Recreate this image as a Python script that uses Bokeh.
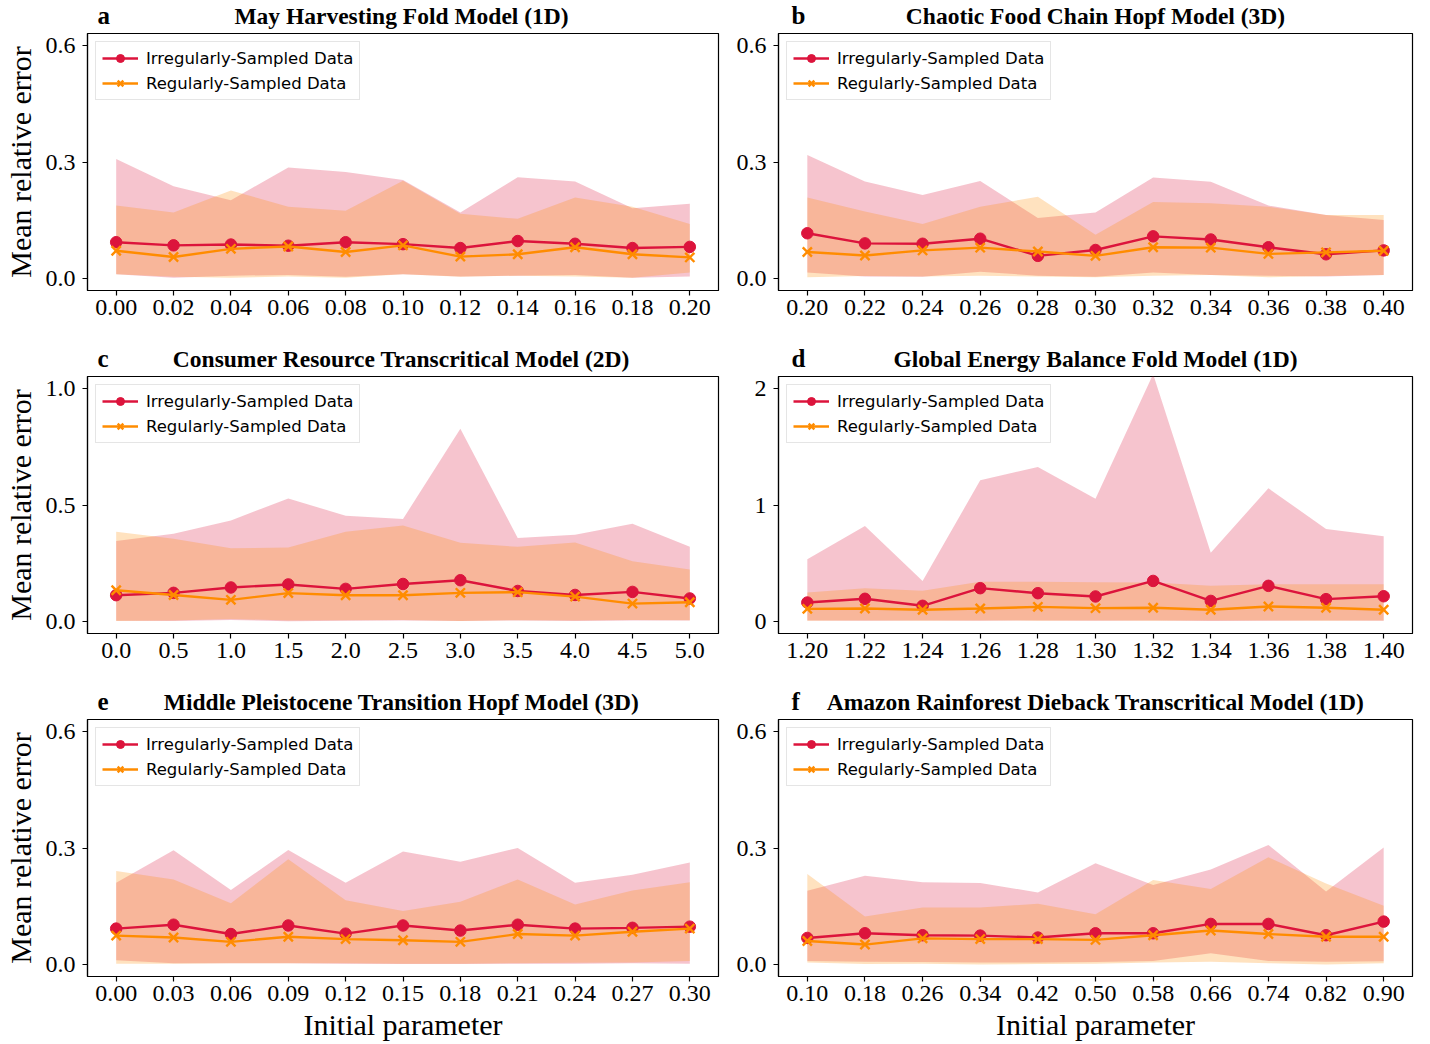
from bokeh.plotting import figure
from bokeh.models import Range1d, FixedTicker, Legend, LegendItem
from bokeh.core.properties import value
from bokeh.layouts import column, row
from bokeh.embed import file_html
from bokeh.resources import INLINE

# ---------------- data ----------------
xa = [0.00, 0.02, 0.04, 0.06, 0.08, 0.10, 0.12, 0.14, 0.16, 0.18, 0.20]
xa_labels = ["0.00", "0.02", "0.04", "0.06", "0.08", "0.10", "0.12", "0.14", "0.16", "0.18", "0.20"]
a_irr = [0.094, 0.086, 0.088, 0.085, 0.094, 0.089, 0.079, 0.097, 0.090, 0.079, 0.082]
a_irr_lo = [0.012, 0.003, 0.008, 0.010, 0.005, 0.012, 0.006, 0.008, 0.010, 0.003, 0.006]
a_irr_hi = [0.308, 0.238, 0.202, 0.286, 0.274, 0.254, 0.170, 0.261, 0.250, 0.181, 0.193]
a_reg = [0.072, 0.056, 0.077, 0.083, 0.069, 0.086, 0.057, 0.063, 0.081, 0.063, 0.055]
a_reg_lo = [0.012, 0.005, 0.003, 0.006, 0.003, 0.012, 0.005, 0.008, 0.006, 0.003, 0.016]
a_reg_hi = [0.188, 0.170, 0.227, 0.185, 0.175, 0.252, 0.167, 0.154, 0.209, 0.185, 0.141]

xb = [0.20, 0.22, 0.24, 0.26, 0.28, 0.30, 0.32, 0.34, 0.36, 0.38, 0.40]
xb_labels = ["0.20", "0.22", "0.24", "0.26", "0.28", "0.30", "0.32", "0.34", "0.36", "0.38", "0.40"]
b_irr = [0.117, 0.091, 0.090, 0.103, 0.059, 0.074, 0.109, 0.101, 0.081, 0.063, 0.073]
b_irr_lo = [0.016, 0.006, 0.005, 0.018, 0.008, 0.005, 0.016, 0.010, 0.008, 0.006, 0.010]
b_irr_hi = [0.318, 0.250, 0.215, 0.251, 0.156, 0.170, 0.260, 0.249, 0.188, 0.164, 0.151]
b_reg = [0.069, 0.060, 0.073, 0.080, 0.070, 0.059, 0.081, 0.080, 0.064, 0.068, 0.072]
b_reg_lo = [0.004, 0.007, 0.006, 0.008, 0.006, 0.004, 0.008, 0.010, 0.004, 0.007, 0.010]
b_reg_hi = [0.209, 0.173, 0.141, 0.185, 0.211, 0.113, 0.197, 0.194, 0.185, 0.164, 0.164]

xc = [0.0, 0.5, 1.0, 1.5, 2.0, 2.5, 3.0, 3.5, 4.0, 4.5, 5.0]
xc_labels = ["0.0", "0.5", "1.0", "1.5", "2.0", "2.5", "3.0", "3.5", "4.0", "4.5", "5.0"]
c_irr = [0.114, 0.124, 0.147, 0.160, 0.141, 0.162, 0.178, 0.132, 0.115, 0.128, 0.100]
c_irr_lo = [0.005, 0.004, 0.008, 0.002, 0.005, 0.006, 0.004, 0.006, 0.003, 0.006, 0.006]
c_irr_hi = [0.346, 0.377, 0.434, 0.528, 0.454, 0.440, 0.826, 0.359, 0.373, 0.420, 0.321]
c_reg = [0.135, 0.115, 0.094, 0.123, 0.114, 0.114, 0.124, 0.127, 0.108, 0.078, 0.084]
c_reg_lo = [0.004, 0.006, 0.012, 0.006, 0.007, 0.008, 0.003, 0.007, 0.006, 0.008, 0.007]
c_reg_hi = [0.385, 0.356, 0.315, 0.318, 0.385, 0.412, 0.338, 0.321, 0.339, 0.259, 0.224]

xd = [1.20, 1.22, 1.24, 1.26, 1.28, 1.30, 1.32, 1.34, 1.36, 1.38, 1.40]
xd_labels = ["1.20", "1.22", "1.24", "1.26", "1.28", "1.30", "1.32", "1.34", "1.36", "1.38", "1.40"]
d_irr = [0.165, 0.197, 0.137, 0.288, 0.245, 0.217, 0.350, 0.179, 0.308, 0.194, 0.219]
d_irr_lo = [0.012, 0.010, 0.012, 0.010, 0.011, 0.010, 0.012, 0.008, 0.010, 0.011, 0.010]
d_irr_hi = [0.536, 0.821, 0.350, 1.211, 1.325, 1.054, 2.120, 0.592, 1.143, 0.795, 0.732]
d_reg = [0.111, 0.114, 0.103, 0.114, 0.128, 0.117, 0.120, 0.103, 0.131, 0.120, 0.103]
d_reg_lo = [0.010, 0.012, 0.010, 0.011, 0.010, 0.012, 0.010, 0.011, 0.012, 0.010, 0.011]
d_reg_hi = [0.251, 0.288, 0.265, 0.342, 0.342, 0.339, 0.336, 0.308, 0.322, 0.322, 0.322]

xe = [0.00, 0.03, 0.06, 0.09, 0.12, 0.15, 0.18, 0.21, 0.24, 0.27, 0.30]
xe_labels = ["0.00", "0.03", "0.06", "0.09", "0.12", "0.15", "0.18", "0.21", "0.24", "0.27", "0.30"]
e_irr = [0.093, 0.103, 0.079, 0.101, 0.080, 0.101, 0.088, 0.103, 0.093, 0.095, 0.098]
e_irr_lo = [0.012, 0.004, 0.004, 0.004, 0.003, 0.002, 0.002, 0.003, 0.003, 0.004, 0.003]
e_irr_hi = [0.211, 0.294, 0.192, 0.295, 0.211, 0.291, 0.265, 0.300, 0.211, 0.231, 0.263]
e_reg = [0.075, 0.070, 0.059, 0.072, 0.066, 0.063, 0.059, 0.079, 0.075, 0.085, 0.093]
e_reg_lo = [0.003, 0.003, 0.004, 0.004, 0.004, 0.003, 0.003, 0.004, 0.005, 0.006, 0.010]
e_reg_hi = [0.241, 0.219, 0.158, 0.271, 0.166, 0.138, 0.162, 0.219, 0.155, 0.191, 0.212]

xf = [0.10, 0.18, 0.26, 0.34, 0.42, 0.50, 0.58, 0.66, 0.74, 0.82, 0.90]
xf_labels = ["0.10", "0.18", "0.26", "0.34", "0.42", "0.50", "0.58", "0.66", "0.74", "0.82", "0.90"]
f_irr = [0.069, 0.081, 0.076, 0.075, 0.070, 0.081, 0.081, 0.105, 0.105, 0.076, 0.111]
f_irr_lo = [0.010, 0.008, 0.007, 0.006, 0.006, 0.007, 0.010, 0.030, 0.010, 0.008, 0.009]
f_irr_hi = [0.190, 0.229, 0.212, 0.210, 0.186, 0.261, 0.205, 0.245, 0.308, 0.188, 0.301]
f_reg = [0.061, 0.052, 0.068, 0.066, 0.066, 0.064, 0.076, 0.088, 0.079, 0.072, 0.072]
f_reg_lo = [0.006, 0.002, 0.003, 0.001, 0.002, 0.003, 0.006, 0.008, 0.004, 0.001, 0.004]
f_reg_hi = [0.233, 0.124, 0.147, 0.147, 0.157, 0.130, 0.218, 0.195, 0.276, 0.209, 0.152]

yt_small = [0.0, 0.3, 0.6]
yt_small_labels = ["0.0", "0.3", "0.6"]
yt_c = [0.0, 0.5, 1.0]
yt_c_labels = ["0.0", "0.5", "1.0"]
yt_d = [0, 1, 2]
yt_d_labels = ["0", "1", "2"]

letters = ["a", "b", "c", "d", "e", "f"]
titles = ["May Harvesting Fold Model (1D)",
          "Chaotic Food Chain Hopf Model (3D)",
          "Consumer Resource Transcritical Model (2D)",
          "Global Energy Balance Fold Model (1D)",
          "Middle Pleistocene Transition Hopf Model (3D)",
          "Amazon Rainforest Dieback Transcritical Model (1D)"]
series_names = ["Irregularly-Sampled Data", "Regularly-Sampled Data"]
y_label = "Mean relative error"
x_label = "Initial parameter"

# ---------------- style / layout ----------------
SERIF = "Liberation Serif"
SANS = "DejaVu Sans"
RED = "#DC143C"
ORANGE = "#FF8C00"
FW, FH = 634, 257
STRIP_H = 33
BORDERS = {0: (84, 12), 1: (48, 18)}


def title_strip(letter, title, col):
    mbl, mbr = BORDERS[col]
    w = FW + mbl + mbr
    s = figure(width=w, height=STRIP_H, x_range=Range1d(0, w), y_range=Range1d(0, STRIP_H),
               output_backend="svg", toolbar_location=None,
               min_border_left=0, min_border_right=0, min_border_top=0, min_border_bottom=0,
               x_axis_type=None, y_axis_type=None)
    s.outline_line_color = None
    s.xgrid.visible = False
    s.ygrid.visible = False
    s.text(x=[mbl + FW / 2], y=[18], text=[title], text_font=value(SERIF),
           text_font_style="bold", text_font_size="23.5px", text_align="center",
           text_baseline="middle", text_color="black")
    s.text(x=[mbl + 13], y=[18], text=[letter], text_font=value(SERIF),
           text_font_style="bold", text_font_size="25px", text_align="left",
           text_baseline="middle", text_color="black")
    return s


def panel(xs, xlabels, irr, irr_lo, irr_hi, reg, reg_lo, reg_hi,
          yticks, ylabels, ytop, col, rowpos):
    span = xs[-1] - xs[0]
    xr = Range1d(xs[0] - 0.05 * span, xs[-1] + 0.05 * span)
    yr = Range1d(-0.05 * ytop, 1.05 * ytop)
    mbl, mbr = BORDERS[col]
    mbb = 68 if rowpos == 2 else 53
    p = figure(width=FW + mbl + mbr, height=FH + mbb, x_range=xr, y_range=yr,
               output_backend="svg", toolbar_location=None,
               min_border_left=mbl, min_border_right=mbr,
               min_border_top=0, min_border_bottom=mbb)
    p.xgrid.visible = False
    p.ygrid.visible = False
    p.outline_line_color = "black"
    p.outline_line_width = 1.2
    p.outline_line_alpha = 1.0

    p.xaxis.ticker = FixedTicker(ticks=xs)
    p.xaxis.major_label_overrides = {x: l for x, l in zip(xs, xlabels)}
    p.yaxis.ticker = FixedTicker(ticks=yticks)
    p.yaxis.major_label_overrides = {y: l for y, l in zip(yticks, ylabels)}
    for ax in (p.xaxis[0], p.yaxis[0]):
        ax.major_tick_in = 0
        ax.major_tick_out = 5
        ax.minor_tick_in = 0
        ax.minor_tick_out = 0
        ax.axis_line_color = "black"
        ax.axis_line_width = 1.2
        ax.major_tick_line_color = "black"
        ax.major_tick_line_width = 1.2
        ax.major_label_text_font = SERIF
        ax.major_label_text_font_size = "24px"
        ax.major_label_text_color = "black"
        ax.axis_label_text_font = SERIF
        ax.axis_label_text_font_size = "30px"
        ax.axis_label_text_font_style = "normal"
        ax.axis_label_text_color = "black"
    p.xaxis.major_label_standoff = 4
    p.yaxis.major_label_standoff = 7
    if col == 0:
        p.yaxis.axis_label = y_label
        p.yaxis.axis_label_standoff = 6
    if rowpos == 2:
        p.xaxis.axis_label = x_label
        p.xaxis.axis_label_standoff = 4

    p.varea(x=xs, y1=irr_lo, y2=irr_hi, fill_color=RED, fill_alpha=0.25)
    p.varea(x=xs, y1=reg_lo, y2=reg_hi, fill_color=ORANGE, fill_alpha=0.25)
    r1 = p.line(xs, irr, line_color=RED, line_width=2.4)
    r2 = p.scatter(xs, irr, marker="circle", size=11.5, fill_color=RED, line_color=RED)
    o1 = p.line(xs, reg, line_color=ORANGE, line_width=2.4)
    o2 = p.scatter(xs, reg, marker="x", size=13, line_color=ORANGE, line_width=2.4)

    leg = Legend(items=[LegendItem(label=series_names[0], renderers=[r1, r2]),
                        LegendItem(label=series_names[1], renderers=[o1, o2])],
                 location="top_left")
    leg.margin = 8
    leg.padding = 6
    leg.spacing = 5
    leg.glyph_width = 36
    leg.glyph_height = 20
    leg.label_height = 20
    leg.label_standoff = 8
    leg.label_text_font = SANS
    leg.label_text_font_size = "16.5px"
    leg.label_text_color = "black"
    leg.border_line_color = "#cccccc"
    leg.border_line_width = 1
    leg.background_fill_color = "white"
    leg.background_fill_alpha = 0.8
    p.add_layout(leg)
    return p


pa = panel(xa, xa_labels, a_irr, a_irr_lo, a_irr_hi, a_reg, a_reg_lo, a_reg_hi,
           yt_small, yt_small_labels, 0.6, 0, 0)
pb = panel(xb, xb_labels, b_irr, b_irr_lo, b_irr_hi, b_reg, b_reg_lo, b_reg_hi,
           yt_small, yt_small_labels, 0.6, 1, 0)
pc = panel(xc, xc_labels, c_irr, c_irr_lo, c_irr_hi, c_reg, c_reg_lo, c_reg_hi,
           yt_c, yt_c_labels, 1.0, 0, 1)
pd = panel(xd, xd_labels, d_irr, d_irr_lo, d_irr_hi, d_reg, d_reg_lo, d_reg_hi,
           yt_d, yt_d_labels, 2.0, 1, 1)
pe = panel(xe, xe_labels, e_irr, e_irr_lo, e_irr_hi, e_reg, e_reg_lo, e_reg_hi,
           yt_small, yt_small_labels, 0.6, 0, 2)
pf = panel(xf, xf_labels, f_irr, f_irr_lo, f_irr_hi, f_reg, f_reg_lo, f_reg_hi,
           yt_small, yt_small_labels, 0.6, 1, 2)

strips = [title_strip(letters[i], titles[i], i % 2) for i in range(6)]

layout = column(
    row(strips[0], strips[1]), row(pa, pb),
    row(strips[2], strips[3]), row(pc, pd),
    row(strips[4], strips[5]), row(pe, pf),
)

html = file_html(layout, INLINE, title="Mean relative error")
html = html.replace("<head>", "<head><style>html,body{margin:0;padding:0;}</style>", 1)
open("out.html", "w").write(html)
